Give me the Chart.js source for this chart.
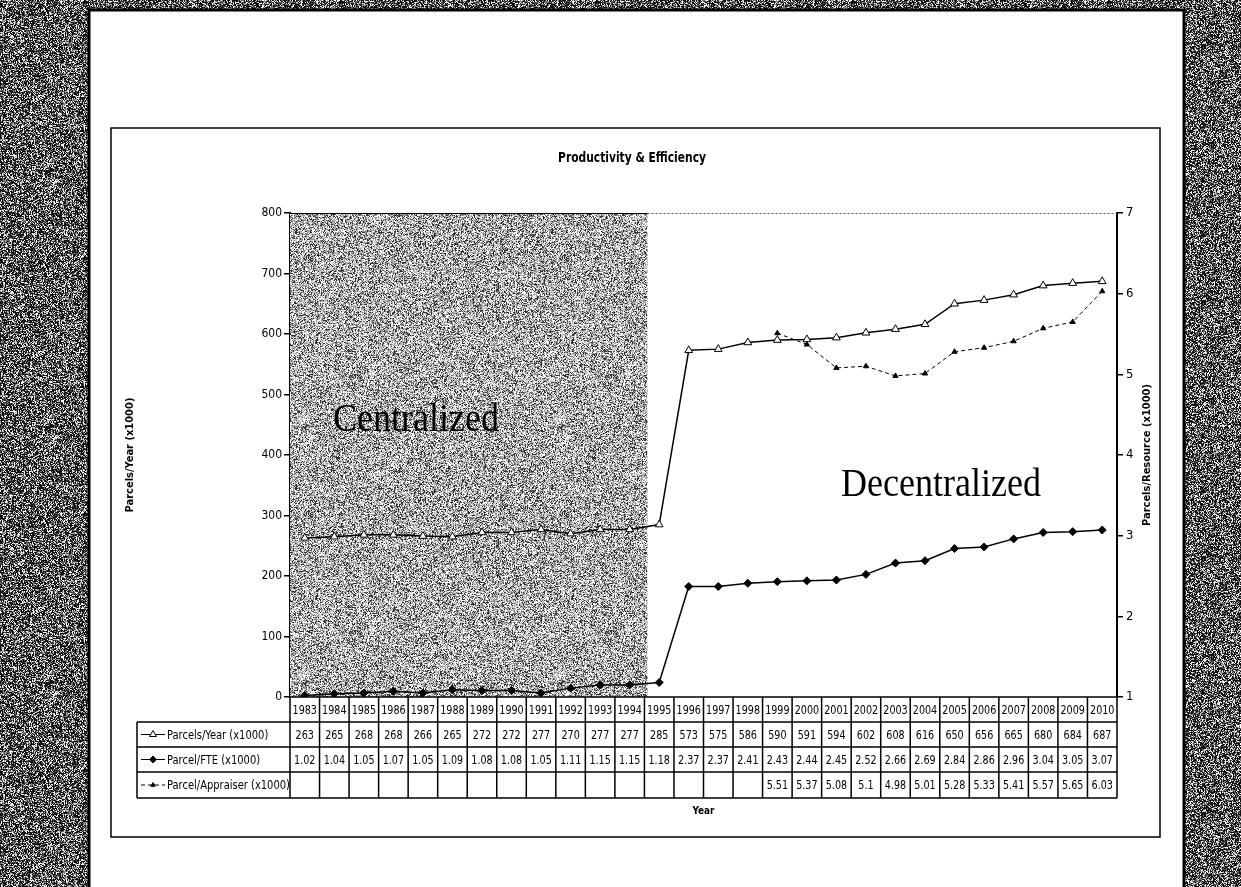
<!DOCTYPE html>
<html>
<head>
<meta charset="utf-8">
<script src="https://cdn.jsdelivr.net/npm/chart.js@4.4.1/dist/chart.umd.min.js"></script>
<style>
    html, body { margin: 0; padding: 0; background: #fff; }
    #wrap { position: relative; width: 1241px; height: 887px; }
</style>
</head>
<body>
<div id="wrap"><canvas id="chart" width="1241" height="887"></canvas></div>
<script>
// Data
const years = ['1983', '1984', '1985', '1986', '1987', '1988', '1989', '1990', '1991', '1992', '1993', '1994', '1995', '1996',
    '1997', '1998', '1999', '2000', '2001', '2002', '2003', '2004', '2005', '2006', '2007', '2008', '2009', '2010'];
const parcelsPerYear = [263, 265, 268, 268, 266, 265, 272, 272, 277, 270, 277, 277, 285, 573,
    575, 586, 590, 591, 594, 602, 608, 616, 650, 656, 665, 680, 684, 687];
const parcelPerFte = [1.02, 1.04, 1.05, 1.07, 1.05, 1.09, 1.08, 1.08, 1.05, 1.11, 1.15, 1.15, 1.18, 2.37,
    2.37, 2.41, 2.43, 2.44, 2.45, 2.52, 2.66, 2.69, 2.84, 2.86, 2.96, 3.04, 3.05, 3.07];
const parcelPerAppraiser = [null, null, null, null, null, null, null, null, null, null, null, null, null, null,
    null, null, 5.51, 5.37, 5.08, 5.1, 4.98, 5.01, 5.28, 5.33, 5.41, 5.57, 5.65, 6.03];
const leftTicks = [0, 100, 200, 300, 400, 500, 600, 700, 800];
const rightTicks = [1, 2, 3, 4, 5, 6, 7];
const seriesNames = ['Parcels/Year (x1000)', 'Parcel/FTE (x1000)', 'Parcel/Appraiser (x1000)'];
const centralizedRange = ['1983', '1994'];

const NARROW = "'Liberation Sans Narrow', 'Arial Narrow', 'DejaVu Sans Condensed', sans-serif";

// deterministic speckle texture, looks like the scanned halftone
function hash(i) {
    const s = Math.sin(i * 127.1 + 311.7) * 43758.5453;
    return s - Math.floor(s);
}
function noiseCanvas(levels) {
    const c = document.createElement('canvas');
    c.width = 256; c.height = 256;
    const g = c.getContext('2d');
    const img = g.createImageData(256, 256);
    for (let i = 0; i < 256 * 256; i++) {
        const h = hash(i);
        let v = 255;
        for (const [t, val] of levels) { if (h < t) { v = val; break; } }
        img.data[i * 4] = img.data[i * 4 + 1] = img.data[i * 4 + 2] = v;
        img.data[i * 4 + 3] = 255;
    }
    g.putImageData(img, 0, 0);
    return c;
}
const darkNoise = noiseCanvas([[0.5, 20], [0.7, 110], [0.85, 190]]);
const grayNoise = noiseCanvas([[0.22, 50], [0.45, 140], [0.72, 195]]);

// condensed text: squeeze horizontally like Arial Narrow
function narrowText(ctx, text, x, y, sx) {
    ctx.save();
    ctx.translate(x, y);
    ctx.scale(sx, 1);
    ctx.fillText(text, 0, 0);
    ctx.restore();
}

const pagePlugin = {
    id: 'page',
    beforeDraw(chart) {
        const ctx = chart.ctx;
        ctx.save();
        ctx.fillStyle = ctx.createPattern(darkNoise, 'repeat');
        ctx.fillRect(0, 0, 1241, 887);
        ctx.fillStyle = '#fff';
        ctx.fillRect(89, 10, 1095, 877);
        ctx.strokeStyle = '#000';
        ctx.lineWidth = 3;
        ctx.beginPath();
        ctx.moveTo(89, 887); ctx.lineTo(89, 10); ctx.lineTo(1184, 10); ctx.lineTo(1184, 887);
        ctx.stroke();
        // chart box
        ctx.lineWidth = 1.5;
        ctx.strokeRect(111, 128, 1049, 709);
        // title
        ctx.fillStyle = '#000';
        ctx.font = 'bold 14px ' + NARROW;
        ctx.textAlign = 'center';
        ctx.textBaseline = 'middle';
        narrowText(ctx, 'Productivity & Efficiency', 632, 158, 0.85);
        ctx.restore();
    },
    beforeDatasetsDraw(chart) {
        const ctx = chart.ctx, ca = chart.chartArea, x = chart.scales.x;
        const band = (ca.right - ca.left) / years.length;
        const x0 = x.getPixelForValue(years.indexOf(centralizedRange[0])) - band / 2;
        const x1 = x.getPixelForValue(years.indexOf(centralizedRange[1])) + band / 2 + 3;
        ctx.save();
        ctx.fillStyle = ctx.createPattern(grayNoise, 'repeat');
        ctx.fillRect(x0, ca.top, x1 - x0, ca.bottom - ca.top);
        // dotted plot border on top
        ctx.strokeStyle = '#555';
        ctx.lineWidth = 1;
        ctx.setLineDash([2, 2]);
        ctx.beginPath();
        ctx.moveTo(x1, ca.top + 0.5); ctx.lineTo(ca.right, ca.top + 0.5);
        ctx.stroke();
        ctx.setLineDash([]);
        ctx.strokeStyle = '#000';
        ctx.beginPath();
        ctx.moveTo(x0, ca.top + 0.5); ctx.lineTo(x1, ca.top + 0.5);
        ctx.stroke();
        // era labels
        ctx.fillStyle = '#000';
        ctx.font = '40px "Liberation Serif", serif';
        ctx.textAlign = 'center';
        ctx.textBaseline = 'middle';
        narrowText(ctx, 'Centralized', 416, 420, 0.9);
        narrowText(ctx, 'Decentralized', 941, 485, 0.9);
        ctx.restore();
    },
    afterDraw(chart) {
        const ctx = chart.ctx, ca = chart.chartArea, x = chart.scales.x;
        const band = (ca.right - ca.left) / years.length;
        const legendLeft = 137;
        const rows = [ca.bottom, ca.bottom + 25, ca.bottom + 50, ca.bottom + 75, ca.bottom + 101];
        ctx.save();
        ctx.strokeStyle = '#000';
        ctx.lineWidth = 1.5;
        ctx.beginPath();
        ctx.moveTo(ca.left, rows[0]); ctx.lineTo(ca.right, rows[0]);
        for (let r = 1; r < rows.length; r++) {
            ctx.moveTo(legendLeft, rows[r]); ctx.lineTo(ca.right, rows[r]);
        }
        for (let i = 0; i <= years.length; i++) {
            const xx = ca.left + i * band;
            ctx.moveTo(xx, rows[0]); ctx.lineTo(xx, rows[4]);
        }
        ctx.moveTo(legendLeft, rows[1]); ctx.lineTo(legendLeft, rows[4]);
        ctx.stroke();

        ctx.fillStyle = '#000';
        ctx.textAlign = 'center';
        ctx.textBaseline = 'middle';
        ctx.font = '13px ' + NARROW;
        const tableRows = [years, parcelsPerYear, parcelPerFte, parcelPerAppraiser];
        tableRows.forEach((vals, r) => {
            const cy = (rows[r] + rows[r + 1]) / 2 + 1;
            vals.forEach((v, i) => {
                if (v === null) return;
                narrowText(ctx, String(v), x.getPixelForValue(i), cy, 0.82);
            });
        });

        // legend keys in the first column
        chart.data.datasets.forEach((ds, r) => {
            const cy = (rows[r + 1] + rows[r + 2]) / 2;
            ctx.strokeStyle = '#000';
            ctx.lineWidth = 1;
            ctx.setLineDash(ds.borderDash || []);
            ctx.beginPath();
            ctx.moveTo(legendLeft + 4, cy); ctx.lineTo(legendLeft + 28, cy);
            ctx.stroke();
            ctx.setLineDash([]);
            ctx.fillStyle = ds.pointBackgroundColor;
            Chart.helpers.drawPoint(ctx, {
                pointStyle: ds.pointStyle, radius: ds.pointRadius - 0.5,
                borderWidth: 1, rotation: 0
            }, legendLeft + 16, cy);
            ctx.fillStyle = '#000';
            ctx.textAlign = 'left';
            ctx.font = '13px ' + NARROW;
            narrowText(ctx, seriesNames[r], legendLeft + 30, cy + 1, 0.85);
        });

        // axis titles
        ctx.font = 'bold 11px ' + NARROW;
        ctx.textAlign = 'center';
        narrowText(ctx, 'Year', (ca.left + ca.right) / 2, rows[4] + 13, 0.9);
        const midY = (ca.top + ca.bottom) / 2;
        ctx.translate(130, midY);
        ctx.rotate(-Math.PI / 2);
        ctx.fillText('Parcels/Year (x1000)', 0, 0);
        ctx.rotate(Math.PI / 2);
        ctx.translate(1147 - 130, 0);
        ctx.rotate(-Math.PI / 2);
        ctx.fillText('Parcels/Resource (x1000)', 0, 0);
        ctx.restore();
    }
};

new Chart(document.getElementById('chart').getContext('2d'), {
    type: 'line',
    data: {
        labels: years,
        datasets: [{
            label: seriesNames[0],
            data: parcelsPerYear,
            yAxisID: 'y',
            borderColor: '#000',
            borderWidth: 1.5,
            pointStyle: 'triangle',
            pointRadius: 4.5,
            pointBackgroundColor: '#fff',
            pointBorderColor: '#000',
            pointBorderWidth: 1,
            tension: 0
        }, {
            label: seriesNames[1],
            data: parcelPerFte,
            yAxisID: 'y1',
            borderColor: '#000',
            borderWidth: 1.5,
            pointStyle: 'rectRot',
            pointRadius: 4,
            pointBackgroundColor: '#000',
            pointBorderColor: '#000',
            pointBorderWidth: 1,
            tension: 0
        }, {
            label: seriesNames[2],
            data: parcelPerAppraiser,
            yAxisID: 'y1',
            borderColor: '#000',
            borderWidth: 1,
            borderDash: [4, 3],
            pointStyle: 'triangle',
            pointRadius: 3,
            pointBackgroundColor: '#000',
            pointBorderColor: '#000',
            pointBorderWidth: 1,
            tension: 0
        }]
    },
    options: {
        responsive: false,
        animation: false,
        devicePixelRatio: 1,
        layout: { padding: { left: 120, right: 74, top: 213, bottom: 190 } },
        plugins: {
            legend: { display: false },
            tooltip: { enabled: false }
        },
        scales: {
            x: {
                display: false,
                offset: true
            },
            y: {
                position: 'left',
                min: leftTicks[0],
                max: leftTicks[leftTicks.length - 1],
                afterFit: s => { s.width = 170; },
                afterBuildTicks: s => { s.ticks = leftTicks.map(v => ({ value: v })); },
                grid: { drawOnChartArea: false, tickLength: 6, color: '#000', lineWidth: 1.5 },
                border: { color: '#000', width: 2 },
                ticks: { color: '#000', padding: 2, font: { family: NARROW, size: 12 } }
            },
            y1: {
                position: 'right',
                min: rightTicks[0],
                max: rightTicks[rightTicks.length - 1],
                afterFit: s => { s.width = 50; },
                afterBuildTicks: s => { s.ticks = rightTicks.map(v => ({ value: v })); },
                grid: { drawOnChartArea: false, tickLength: 6, color: '#000', lineWidth: 1.5 },
                border: { color: '#000', width: 2 },
                ticks: { color: '#000', padding: 3, font: { family: NARROW, size: 13 } }
            }
        }
    },
    plugins: [pagePlugin]
});
</script>
</body>
</html>
